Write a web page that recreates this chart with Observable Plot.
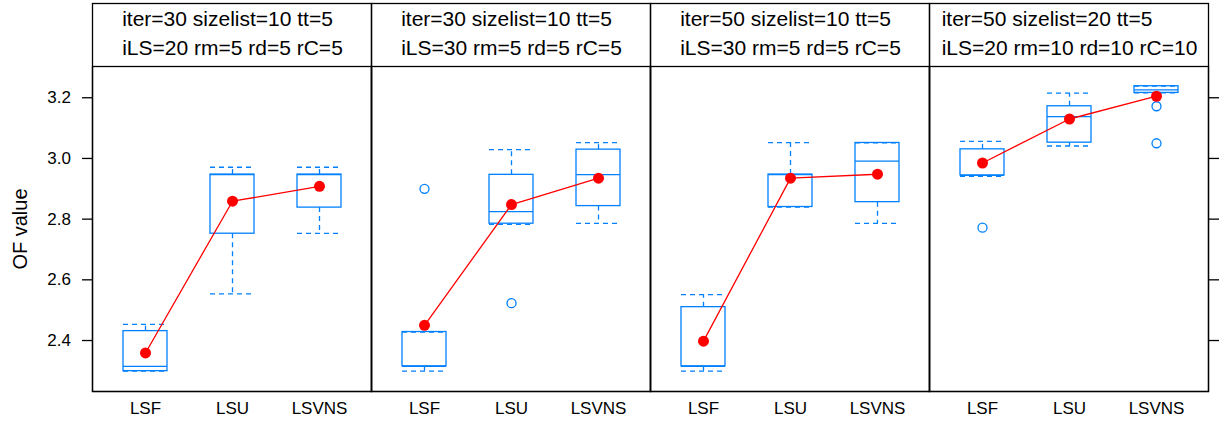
<!DOCTYPE html>
<html>
<head>
<meta charset="utf-8">
<script src="https://cdn.jsdelivr.net/npm/d3@7"></script>
<script src="https://cdn.jsdelivr.net/npm/@observablehq/plot@0.6"></script>
<style>
  html, body { margin: 0; padding: 0; background: white; }
</style>
</head>
<body>
<div id="chart"></div>
<script>
// ---- data ----
const panels = ["p1", "p2", "p3", "p4"];
const stripLine1 = ["iter=30 sizelist=10 tt=5", "iter=30 sizelist=10 tt=5", "iter=50 sizelist=10 tt=5", "iter=50 sizelist=20 tt=5"];
const stripLine2 = ["iLS=20 rm=5 rd=5 rC=5", "iLS=30 rm=5 rd=5 rC=5", "iLS=30 rm=5 rd=5 rC=5", "iLS=20 rm=10 rd=10 rC=10"];
const methods = ["LSF", "LSU", "LSVNS"];

// per panel, per method (LSF, LSU, LSVNS)
const whiskerLow  = [[2.299, 2.554, 2.753], [2.299, 2.783, 2.786], [2.299, 2.840, 2.786], [2.941, 3.041, 3.216]];
const q1Values    = [[2.299, 2.752, 2.838], [2.315, 2.785, 2.843], [2.315, 2.840, 2.856], [2.944, 3.052, 3.216]];
const medians     = [[2.315, 2.947, 2.947], [2.315, 2.825, 2.947], [2.315, 2.947, 2.991], [2.944, 3.138, 3.226]];
const q3Values    = [[2.431, 2.947, 2.947], [2.428, 2.946, 3.029], [2.510, 2.947, 3.051], [3.030, 3.172, 3.238]];
const whiskerHigh = [[2.453, 2.971, 2.971], [2.428, 3.029, 3.052], [2.551, 3.052, 3.051], [3.056, 3.215, 3.238]];
const means       = [[2.359, 2.859, 2.908], [2.450, 2.848, 2.935], [2.398, 2.935, 2.948], [2.985, 3.130, 3.205]];

const outlierPanel  = ["p2", "p2", "p4", "p4", "p4"];
const outlierMethod = ["LSF", "LSU", "LSF", "LSVNS", "LSVNS"];
const outlierValue  = [2.900, 2.523, 2.772, 3.172, 3.050];

const yTicks = [2.4, 2.6, 2.8, 3.0, 3.2];
const yLabel = "OF value";

// ---- build tables ----
const stats = [];
panels.forEach((p, i) => methods.forEach((m, j) => stats.push({
  panel: p, method: m,
  lo: whiskerLow[i][j], q1: q1Values[i][j], med: medians[i][j],
  q3: q3Values[i][j], hi: whiskerHigh[i][j], mean: means[i][j]
})));
const outliers = outlierValue.map((v, k) => ({panel: outlierPanel[k], method: outlierMethod[k], value: v}));

const FONT = "Liberation Sans, Arial, Helvetica, sans-serif";
const BLUE = "#0080ff";
const STRIP_FS = 21;

// measure strip block width to centre a left-aligned two-line block in each strip
const ctx = document.createElement("canvas").getContext("2d");
ctx.font = `${STRIP_FS}px "Liberation Sans"`;
const stripMarks = panels.map((p, i) => {
  const w = Math.max(ctx.measureText(stripLine1[i]).width, ctx.measureText(stripLine2[i]).width);
  return Plot.text([{panel: p, label: stripLine1[i] + "\n" + stripLine2[i]}], {
    fx: "panel", text: "label", frameAnchor: "top-left",
    textAnchor: "start", lineAnchor: "middle", lineHeight: 1.35,
    dx: 140 - w / 2, dy: -35, fontSize: STRIP_FS, fill: "black"
  });
});

const dash = "5,4";

const chart = Plot.plot({
  width: 1221,
  height: 423,
  marginLeft: 91,
  marginRight: 12,
  marginTop: 66,
  marginBottom: 32,
  style: {fontFamily: FONT, background: "white", color: "black"},
  fx: {domain: panels, padding: 0, axis: null},
  x: {domain: methods, type: "band", paddingInner: 0.5, paddingOuter: 0.35, axis: null},
  y: {domain: [2.232, 3.303], axis: null},
  marks: [
    // panel and strip frames
    Plot.frame({stroke: "black", strokeWidth: 1.3}),
    Plot.frame({stroke: "black", strokeWidth: 1.3, insetTop: -63}),
    ...stripMarks,
    // axes
    Plot.axisY({anchor: "left", ticks: yTicks, tickSize: 10, tickPadding: 11.5,
      tickFormat: d3.format(".1f"), fontSize: 17, label: null, strokeWidth: 1.3}),
    Plot.axisY({anchor: "right", ticks: yTicks, tickSize: 10,
      tickFormat: () => "", label: null, strokeWidth: 1.3}),
    Plot.axisX({tickSize: 0, tickPadding: 10, fontSize: 17, label: null}),
    Plot.text([{panel: panels[0], label: yLabel}], {
      fx: "panel", text: "label", frameAnchor: "left", rotate: -90,
      textAnchor: "middle", dx: -72, fontSize: 20, lineAnchor: "middle", fill: "black"
    }),
    // whiskers
    Plot.ruleX(stats, {fx: "panel", x: "method", y1: "q3", y2: "hi", stroke: BLUE, strokeWidth: 1.3, strokeDasharray: dash}),
    Plot.ruleX(stats, {fx: "panel", x: "method", y1: "q1", y2: "lo", stroke: BLUE, strokeWidth: 1.3, strokeDasharray: dash}),
    Plot.tickY(stats, {fx: "panel", x: "method", y: "hi", stroke: BLUE, strokeWidth: 1.3, strokeDasharray: dash}),
    Plot.tickY(stats, {fx: "panel", x: "method", y: "lo", stroke: BLUE, strokeWidth: 1.3, strokeDasharray: dash}),
    // boxes
    Plot.barY(stats, {fx: "panel", x: "method", y1: "q1", y2: "q3", fill: "none", stroke: BLUE, strokeWidth: 1.3}),
    Plot.tickY(stats, {fx: "panel", x: "method", y: "med", stroke: BLUE, strokeWidth: 1.3}),
    // outliers
    Plot.dot(outliers, {fx: "panel", x: "method", y: "value", r: 4.5, stroke: BLUE, strokeWidth: 1.3, fill: "none"}),
    // means
    Plot.line(stats, {fx: "panel", x: "method", y: "mean", stroke: "red", strokeWidth: 1.3}),
    Plot.dot(stats, {fx: "panel", x: "method", y: "mean", r: 5.5, fill: "red", stroke: "none"})
  ]
});
document.getElementById("chart").appendChild(chart);
</script>
</body>
</html>
